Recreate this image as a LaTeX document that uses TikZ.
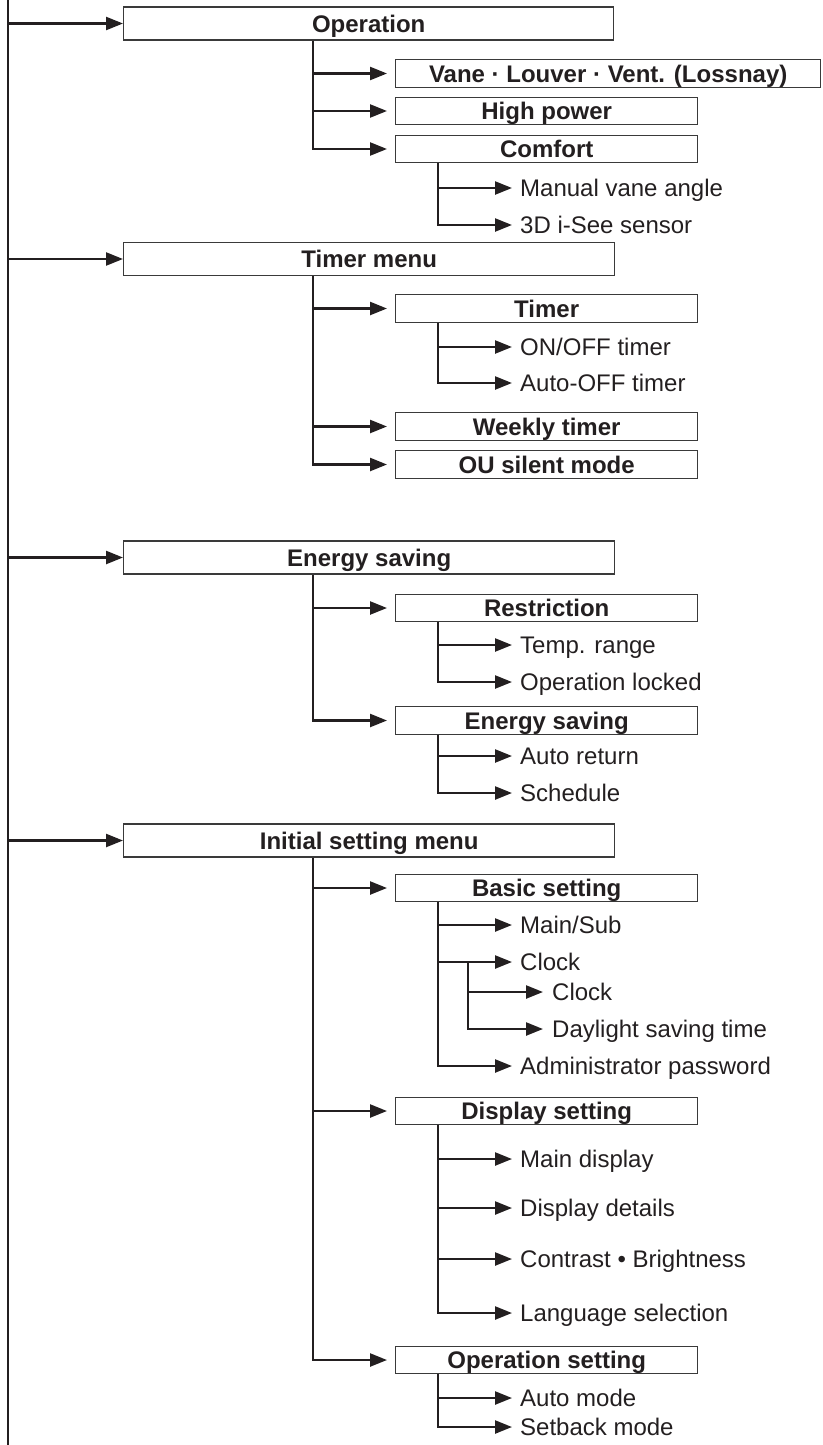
\documentclass[tikz,border=0pt]{standalone}
\usepackage{fontspec}
\setmainfont{Liberation Sans}
\usetikzlibrary{arrows.meta}
\definecolor{ink}{HTML}{231F20}
\definecolor{frame}{HTML}{3A3A3A}
\begin{document}
\begin{tikzpicture}[x=1pt,y=-1pt,
  every node/.style={font=\fontsize{24}{28}\selectfont, text=ink, inner sep=0pt},
  topbox/.style={draw=frame, line width=1.4pt, fill=white, minimum width=491pt, minimum height=33pt,
    anchor=west, text height=17.2pt, text depth=0pt, font=\fontsize{24}{28}\selectfont\bfseries},
  subbox/.style={topbox, minimum width=302pt, minimum height=27.5pt},
  leaf/.style={anchor=west, text height=17.2pt, text depth=0pt},
  conn/.style={line width=2.4pt, draw=ink},
  arr/.style={conn, -{Triangle[length=17pt,width=13pt]}},
  sarr/.style={arr, shorten >=8pt},
]
\useasboundingbox (0,0) rectangle (822,1445);

% ---- nodes ----
\node[topbox, minimum width=490pt] (op) at (123,23.5) {Operation};
\node[subbox, minimum width=425pt] (vane) at (395,73.5) {Vane · Louver · Vent. (Lossnay)};
\node[subbox] (hp) at (395,111) {High power};
\node[subbox] (cf) at (395,149) {Comfort};
\node[leaf] (mva) at (520,188) {Manual vane angle};
\node[leaf] (isee) at (520,225) {3D i-See sensor};

\node[topbox] (tm) at (123,259) {Timer menu};
\node[subbox] (tmr) at (395,308.5) {Timer};
\node[leaf] (onoff) at (520,347) {ON/OFF timer};
\node[leaf] (aoff) at (520,383) {Auto-OFF timer};
\node[subbox] (wk) at (395,426.5) {Weekly timer};
\node[subbox] (ou) at (395,464.5) {OU silent mode};

\node[topbox] (es) at (123,557.5) {Energy saving};
\node[subbox] (rs) at (395,608) {Restriction};
\node[leaf] (tr) at (520,645) {Temp. range};
\node[leaf] (ol) at (520,682) {Operation locked};
\node[subbox] (es2) at (395,720.5) {Energy saving};
\node[leaf] (ar) at (520,756) {Auto return};
\node[leaf] (sch) at (520,793) {Schedule};

\node[topbox] (ini) at (123,840.5) {Initial setting menu};
\node[subbox] (bs) at (395,888) {Basic setting};
\node[leaf] (ms) at (520,925) {Main/Sub};
\node[leaf] (clk) at (520,962) {Clock};
\node[leaf] (clk2) at (552,992) {Clock};
\node[leaf] (dst) at (552,1029) {Daylight saving time};
\node[leaf] (adm) at (520,1066) {Administrator password};
\node[subbox] (ds) at (395,1111) {Display setting};
\node[leaf] (md) at (520,1159) {Main display};
\node[leaf] (dd) at (520,1208) {Display details};
\node[leaf] (cb) at (520,1259) {Contrast • Brightness};
\node[leaf] (ls) at (520,1313) {Language selection};
\node[subbox] (os) at (395,1360) {Operation setting};
\node[leaf] (am) at (520,1398) {Auto mode};
\node[leaf] (sm) at (520,1427) {Setback mode};

% ---- trunk coordinates ----
\coordinate (T) at (8,0);
\coordinate (B) at (8,1445);
\coordinate (L2) at (313,0);
\coordinate (L3) at (438,0);
\coordinate (L4) at (468,0);

% main trunk
\draw[conn] (T) -- (B);
\foreach \n in {op,tm,es,ini} \draw[arr] (T |- \n.west) -- (\n.west);

% Operation
\draw[sarr] (op.south -| L2) |- (cf.west);
\foreach \n in {vane,hp} \draw[sarr] (L2 |- \n.west) -- (\n.west);
\draw[sarr] (cf.south -| L3) |- (isee.west);
\draw[sarr] (L3 |- mva.west) -- (mva.west);

% Timer menu
\draw[sarr] (tm.south -| L2) |- (ou.west);
\foreach \n in {tmr,wk} \draw[sarr] (L2 |- \n.west) -- (\n.west);
\draw[sarr] (tmr.south -| L3) |- (aoff.west);
\draw[sarr] (L3 |- onoff.west) -- (onoff.west);

% Energy saving
\draw[sarr] (es.south -| L2) |- (es2.west);
\draw[sarr] (L2 |- rs.west) -- (rs.west);
\draw[sarr] (rs.south -| L3) |- (ol.west);
\draw[sarr] (L3 |- tr.west) -- (tr.west);
\draw[sarr] (es2.south -| L3) |- (sch.west);
\draw[sarr] (L3 |- ar.west) -- (ar.west);

% Initial setting menu
\draw[sarr] (ini.south -| L2) |- (os.west);
\foreach \n in {bs,ds} \draw[sarr] (L2 |- \n.west) -- (\n.west);
\draw[sarr] (bs.south -| L3) |- (adm.west);
\foreach \n in {ms,clk} \draw[sarr] (L3 |- \n.west) -- (\n.west);
\draw[arr, shorten >=9pt] (L4 |- clk.west) |- (dst.west);
\draw[arr, shorten >=9pt] (L4 |- clk2.west) -- (clk2.west);
\draw[sarr] (ds.south -| L3) |- (ls.west);
\foreach \n in {md,dd,cb} \draw[sarr] (L3 |- \n.west) -- (\n.west);
\draw[sarr] (os.south -| L3) |- (sm.west);
\draw[sarr] (L3 |- am.west) -- (am.west);
\end{tikzpicture}
\end{document}
